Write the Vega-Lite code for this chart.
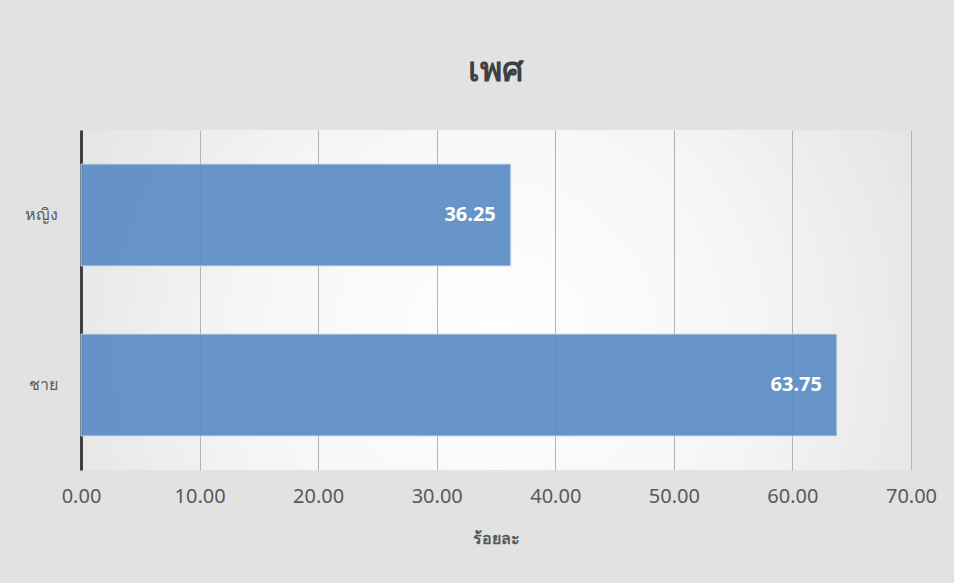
{
  "$schema": "https://vega.github.io/schema/vega-lite/v6.json",
  "width": 830,
  "height": 340,
  "autosize": {"type": "none"},
  "padding": {"left": 81, "top": 130, "right": 43, "bottom": 113},
  "background": "#e2e2e2",
  "config": {
    "font": "Noto Sans",
    "view": {
      "stroke": null,
      "fill": {
        "gradient": "radial",
        "x1": 0.5, "y1": 0.55, "x2": 0.5, "y2": 0.55,
        "r1": 0, "r2": 0.75,
        "stops": [
          {"offset": 0, "color": "#ffffff"},
          {"offset": 0.4, "color": "#f6f6f6"},
          {"offset": 1, "color": "#d8d8d8"}
        ]
      }
    }
  },
  "title": {
    "text": "เพศ",
    "fontSize": 34,
    "fontWeight": "bold",
    "color": "#404040",
    "offset": 42,
    "anchor": "middle"
  },
  "data": {
    "values": [
      {"sex": "หญิง", "pct": 36.25},
      {"sex": "ชาย", "pct": 63.75}
    ]
  },
  "encoding": {
    "y": {
      "field": "sex",
      "type": "nominal",
      "sort": ["หญิง", "ชาย"],
      "scale": {"paddingInner": 0.4, "paddingOuter": 0.2},
      "axis": {
        "title": null,
        "ticks": false,
        "domainColor": "#404040",
        "domainWidth": 3,
        "labelFontSize": 16,
        "labelColor": "#595959",
        "labelPadding": 24,
        "grid": false
      }
    },
    "x": {
      "field": "pct",
      "type": "quantitative",
      "scale": {"domain": [0, 70], "nice": false},
      "axis": {
        "title": "ร้อยละ",
        "titleFontSize": 16,
        "titleFontWeight": "bold",
        "titleColor": "#595959",
        "titlePadding": 24,
        "format": ".2f",
        "values": [0, 10, 20, 30, 40, 50, 60, 70],
        "labelFontSize": 20,
        "labelColor": "#595959",
        "labelPadding": 16,
        "labelFlush": false,
        "labelOverlap": false,
        "ticks": false,
        "domain": false,
        "grid": true,
        "gridColor": "#b3b3b3",
        "gridWidth": 1
      }
    }
  },
  "layer": [
    {
      "mark": {
        "type": "bar",
        "color": "#5b8cc5",
        "opacity": 0.92,
        "stroke": "#c9d9ee",
        "strokeWidth": 1
      }
    },
    {
      "mark": {
        "type": "text",
        "align": "right",
        "baseline": "middle",
        "dx": -15,
        "fontSize": 20,
        "fontWeight": "bold",
        "color": "#ffffff"
      },
      "encoding": {
        "text": {"field": "pct", "type": "quantitative", "format": ".2f"}
      }
    }
  ]
}
